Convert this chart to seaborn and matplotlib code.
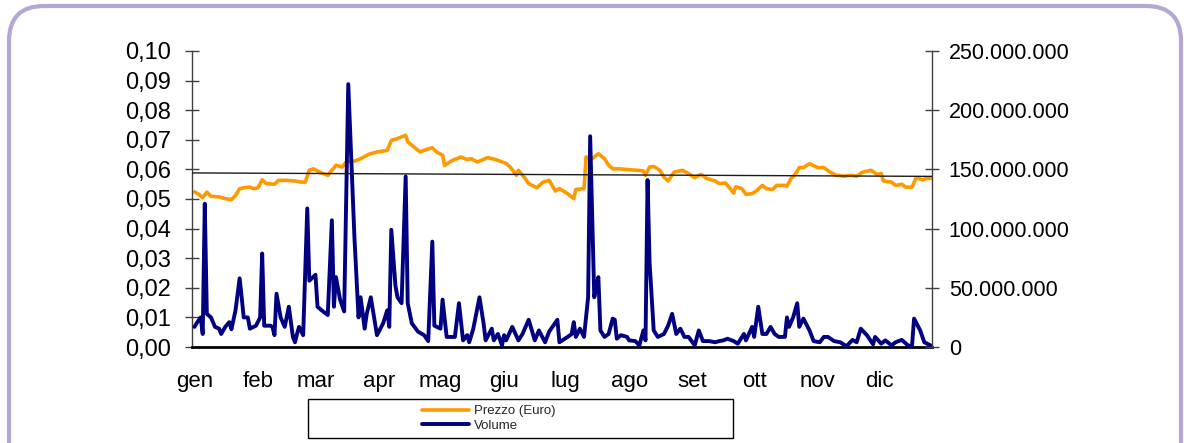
import numpy as np
import pandas as pd
import seaborn as sns
import matplotlib.pyplot as plt
import matplotlib.dates as mdates
from matplotlib.patches import FancyBboxPatch, Rectangle
from matplotlib.ticker import FuncFormatter

# prezzo (Euro)
price_dates = [
    "01-01", "01-03", "01-05", "01-07", "01-09", "01-13", "01-16", "01-19", "01-21", "01-23", "01-25", "01-28",
    "01-30", "02-01", "02-03", "02-05", "02-09", "02-11", "02-15", "02-19", "02-22", "02-24", "02-26",
    "02-28", "03-03", "03-07", "03-11", "03-14", "03-16", "03-20", "03-23", "03-27",
    "03-31", "04-05", "04-07", "04-10", "04-14", "04-15", "04-18", "04-21", "04-24", "04-27",
    "04-29", "05-02", "05-03", "05-07", "05-11", "05-14", "05-16", "05-19", "05-24", "05-28",
    "05-31", "06-02", "06-04", "06-07", "06-08", "06-11", "06-13", "06-17", "06-20", "06-23", "06-26",
    "06-28", "07-02", "07-05", "07-06", "07-10", "07-11", "07-14", "07-17", "07-20", "07-22", "07-24", "07-27",
    "08-01", "08-05", "08-08", "08-09", "08-11", "08-13", "08-16", "08-18", "08-20", "08-23", "08-27",
    "08-30", "09-02", "09-05", "09-08", "09-12", "09-14", "09-17", "09-19", "09-21", "09-22", "09-25",
    "09-27", "09-30", "10-02", "10-05", "10-07", "10-10", "10-12", "10-16", "10-17", "10-19", "10-21", "10-23", "10-25",
    "10-28", "11-01", "11-04", "11-07", "11-10", "11-14", "11-17", "11-20", "11-23",
    "11-27", "11-30", "12-02", "12-03", "12-07", "12-09", "12-12", "12-14", "12-17", "12-19", "12-22", "12-24", "12-26",
]
price_values = [
    0.0524, 0.0516, 0.0505, 0.0523, 0.0509, 0.0507, 0.0501, 0.0498, 0.0512, 0.0535, 0.0538, 0.0540,
    0.0535, 0.0538, 0.0565, 0.0552, 0.0550, 0.0563, 0.0563, 0.0561, 0.0557, 0.0557, 0.0597,
    0.0602, 0.0591, 0.0580, 0.0614, 0.0608, 0.0625, 0.0628, 0.0636, 0.0651,
    0.0659, 0.0664, 0.0698, 0.0704, 0.0715, 0.0693, 0.0676, 0.0659, 0.0667, 0.0673,
    0.0659, 0.0648, 0.0614, 0.0631, 0.0642, 0.0633, 0.0636, 0.0625, 0.0640, 0.0633,
    0.0625, 0.0620, 0.0608, 0.0580, 0.0597, 0.0572, 0.0552, 0.0538, 0.0557, 0.0563, 0.0527,
    0.0535, 0.0518, 0.0501, 0.0532, 0.0535, 0.0642, 0.0636, 0.0653, 0.0636, 0.0614, 0.0602, 0.0602,
    0.0599, 0.0597, 0.0595, 0.0580, 0.0608, 0.0610, 0.0597, 0.0574, 0.0561, 0.0591, 0.0597,
    0.0586, 0.0572, 0.0583, 0.0569, 0.0561, 0.0552, 0.0554, 0.0538, 0.0520, 0.0541, 0.0535,
    0.0516, 0.0518, 0.0527, 0.0546, 0.0535, 0.0532, 0.0546, 0.0546, 0.0543, 0.0569, 0.0583, 0.0606, 0.0606,
    0.0619, 0.0606, 0.0606, 0.0591, 0.0580, 0.0577, 0.0580, 0.0577, 0.0591,
    0.0597, 0.0583, 0.0586, 0.0561, 0.0557, 0.0546, 0.0550, 0.0540, 0.0540, 0.0572, 0.0565, 0.0569, 0.0569,
]

# volume scambiato (milioni di azioni)
volume_dates = [
    "01-01", "01-02", "01-04", "01-05", "01-06", "01-07", "01-09", "01-11", "01-13", "01-14", "01-16", "01-18",
    "01-19", "01-21", "01-23", "01-24", "01-25", "01-27", "01-28",
    "01-31", "02-02", "02-03", "02-04", "02-07", "02-08", "02-09", "02-10", "02-12", "02-14", "02-16", "02-18",
    "02-19", "02-20", "02-21", "02-23", "02-25", "02-26",
    "03-01", "03-02", "03-04", "03-07", "03-09", "03-10", "03-11", "03-13", "03-15", "03-17", "03-20", "03-22",
    "03-23", "03-25", "03-26", "03-28",
    "03-31", "04-03", "04-05", "04-06", "04-07", "04-09", "04-10", "04-12", "04-14", "04-15", "04-17", "04-20",
    "04-23", "04-25", "04-27",
    "04-28", "05-01", "05-02", "05-04", "05-08", "05-10", "05-12", "05-14", "05-15", "05-17", "05-20", "05-22",
    "05-23", "05-26", "05-27",
    "05-29", "05-31", "06-01", "06-02", "06-05", "06-08", "06-10", "06-13", "06-16", "06-18", "06-21", "06-23", "06-27",
    "06-28", "07-02", "07-04", "07-05", "07-06", "07-08", "07-10", "07-12", "07-13", "07-15", "07-16", "07-17",
    "07-18", "07-20", "07-22", "07-24", "07-25", "07-26",
    "07-28", "07-31", "08-01", "08-04", "08-06", "08-08", "08-09", "08-10", "08-11", "08-13", "08-15", "08-18",
    "08-20", "08-22", "08-24", "08-26",
    "08-28", "08-30", "09-02", "09-04", "09-06", "09-09", "09-12", "09-14", "09-16", "09-18", "09-21", "09-23", "09-26",
    "09-27", "09-30", "10-01", "10-03", "10-05", "10-07", "10-09", "10-11", "10-13", "10-16", "10-17", "10-18",
    "10-20", "10-22", "10-23", "10-25",
    "10-28", "10-30", "11-02", "11-04", "11-06", "11-09", "11-12", "11-15", "11-18", "11-20", "11-22", "11-25",
    "11-28", "11-29", "12-02", "12-04", "12-07", "12-09", "12-12", "12-15", "12-17", "12-18", "12-21", "12-23", "12-26",
]
volume_values = [
    17, 20, 25, 11, 121, 28, 25, 17, 15.5, 11, 17, 21,
    15, 31, 58, 42, 25, 25, 15.5,
    18, 25, 79, 18, 18, 17, 10, 45, 25, 17, 34, 8.5,
    4, 11, 17, 10, 117, 56,
    61, 34, 31, 27, 107, 34, 59, 40, 30, 222, 93, 25,
    42, 15.5, 28, 42,
    10, 20, 31, 17, 99, 52, 42, 37, 144, 37, 20, 13,
    10, 5, 89,
    18, 15.5, 40, 8.5, 8.5, 37, 5.6, 10, 4, 15.5, 42, 20,
    5.6, 15.5, 5.6,
    11, 1.4, 10, 5.6, 17, 5.6, 11, 23, 5.6, 14, 4, 13, 23,
    4, 8.5, 11, 21, 8.5, 15.5, 8.5, 42, 178, 42, 51, 59,
    14, 8.5, 11, 24, 23, 7,
    10, 8.5, 5.6, 5, 1.4, 14, 5.6, 141, 71, 14, 8.5, 11,
    18, 28, 11, 15.5,
    8.5, 8.5, 1.4, 14, 5, 5, 4, 5, 5.6, 7, 5, 2.8, 11,
    5.6, 17, 8.5, 34, 11, 11, 17, 11, 8.5, 8.5, 25, 17,
    25, 37, 17, 24,
    14, 5, 4, 8.5, 8.5, 5, 4, 0.6, 6, 4, 15.5, 10,
    2.3, 8.5, 2.8, 5.6, 1.4, 4, 6, 1.4, 0.6, 24, 14, 4, 1.4,
]

month_labels = ["gen", "feb", "mar", "apr", "mag", "giu", "lug", "ago", "set", "ott", "nov", "dic"]
legend_labels = ["Prezzo (Euro)", "Volume"]

price = pd.DataFrame({
    "data": pd.to_datetime(["2007-" + d for d in price_dates]),
    "prezzo": price_values,
})
volume = pd.DataFrame({
    "data": pd.to_datetime(["2007-" + d for d in volume_dates]),
    "volume": np.array(volume_values) * 1e6,
})

sns.set_theme(style="white")
plt.rcParams['font.family'] = ['Liberation Sans', 'DejaVu Sans']

fig = plt.figure(figsize=(11.89, 4.43), dpi=100)
ax = fig.add_axes([0.1615, 0.2167, 0.6224, 0.6682])
ax2 = ax.twinx()
ax3 = ax.twinx()

sns.lineplot(data=price, x="data", y="prezzo", ax=ax, color="#FF9900", linewidth=2.6, legend=False)
sns.lineplot(data=volume, x="data", y="volume", ax=ax2, color="#000080", linewidth=2.8, legend=False)

ax.set_xlim(pd.Timestamp("2006-12-30 18:45"), pd.Timestamp("2007-12-26 18:45"))
ax.set_ylim(0, 0.1)
ax2.set_ylim(0, 250e6)
ax3.set_ylim(0, 0.1)

# linea di tendenza del prezzo
sns.regplot(x=mdates.date2num(price["data"]), y=price["prezzo"], ax=ax3, scatter=False, ci=None,
            truncate=False, line_kws={"color": "#1a1a1a", "linewidth": 1.0})
ax3.set_ylim(0, 0.1)
ax3.axis("off")

ax.set_xticks([pd.Timestamp(2007, m, 1) for m in range(1, 13)])
ax.set_xticklabels(month_labels)
ax.set_yticks(np.arange(0, 0.1001, 0.01))
ax.yaxis.set_major_formatter(FuncFormatter(lambda v, _: f"{v:.2f}".replace(".", ",")))
ax2.set_yticks(np.arange(0, 250e6 + 1, 50e6))
ax2.yaxis.set_major_formatter(FuncFormatter(lambda v, _: f"{int(round(v)):,}".replace(",", ".")))

for a in (ax, ax2):
    a.set_xlabel("")
    a.set_ylabel("")
    for s in a.spines.values():
        s.set_visible(False)

ax.spines["left"].set_visible(True)
ax.spines["left"].set_color("#404040")
ax.spines["left"].set_linewidth(1)
ax.spines["bottom"].set_visible(True)
ax.spines["bottom"].set_color("black")
ax.spines["bottom"].set_linewidth(2)
ax2.spines["right"].set_visible(True)
ax2.spines["right"].set_color("#404040")
ax2.spines["right"].set_linewidth(1)

ax.tick_params(axis="y", left=True, direction="inout", length=10, width=1, color="#404040",
               pad=10, labelsize=17, labelcolor="black")
ax.tick_params(axis="x", bottom=False, length=0, pad=17, labelsize=16, labelcolor="black")
ax2.tick_params(axis="y", right=True, direction="inout", length=10, width=1, color="#404040",
                pad=7, labelsize=15.5, labelcolor="black")

# legenda in basso con riquadro
handles = [ax.get_lines()[0], ax2.get_lines()[0]]
fig.legend(handles, legend_labels, loc="center", bbox_to_anchor=(0.411, 0.0553), frameon=False,
           fontsize=9.5, handlelength=3.6, handletextpad=0.35, labelspacing=0.2, borderpad=0)
fig.add_artist(Rectangle((0.259, 0.0113), 0.3575, 0.088, transform=fig.transFigure,
                         fill=False, edgecolor="black", linewidth=1))

# cornice arrotondata
fig.add_artist(FancyBboxPatch((0.09, -0.6), 11.72, 4.97, boxstyle="round,pad=0,rounding_size=0.35",
                              transform=fig.dpi_scale_trans, fill=False, edgecolor="#B4A7D6", linewidth=3))

fig.savefig("out.png", dpi=100)
